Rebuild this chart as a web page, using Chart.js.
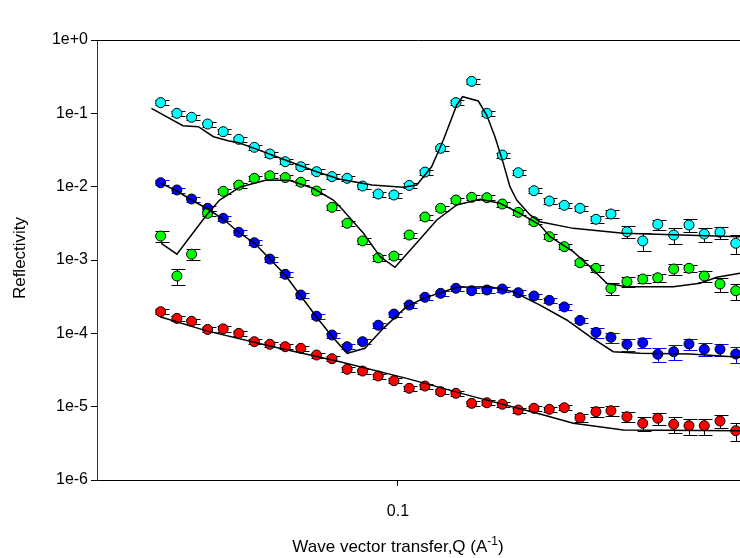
<!DOCTYPE html>
<html>
<head>
<meta charset="utf-8">
<script src="https://cdn.jsdelivr.net/npm/chart.js@4"></script>
<style>
  html, body { margin: 0; padding: 0; background: #fff; overflow: hidden; }
  canvas { display: block; }
</style>
</head>
<body>
<canvas id="chart" width="740" height="558"></canvas>
<script>
// Q values (A^-1) shared by all four measured curves
const qValues = [0.0387, 0.0413, 0.0438, 0.0467, 0.0497, 0.0529, 0.0563, 0.0599, 0.0637, 0.0678,
  0.0722, 0.0768, 0.0816, 0.0868, 0.0924, 0.0984, 0.1046, 0.1114, 0.1186, 0.1261,
  0.1343, 0.1427, 0.1518, 0.1618, 0.1723, 0.1832, 0.1945, 0.2071, 0.2208, 0.2344,
  0.2499, 0.2662, 0.2827, 0.3013, 0.3203, 0.3405, 0.3626, 0.3862];

// measured reflectivity
const cyanR = [0.140, 0.100, 0.0883, 0.0715, 0.0562, 0.0442, 0.0344, 0.0279, 0.0219, 0.0187,
  0.0160, 0.0137, 0.0130, 0.0102, 0.00794, 0.00770, 0.0104, 0.0158, 0.0333, 0.140,
  0.273, 0.100, 0.0270, 0.0155, 0.00881, 0.00637, 0.00557, 0.00507, 0.00359, 0.00424,
  0.00243, 0.00182, 0.00307, 0.00219, 0.00300, 0.00226, 0.00239, 0.00169];
const greenR = [0.00212, 0.000605, 0.00120, 0.00433, 0.00864, 0.0105, 0.0130, 0.0141, 0.0133, 0.0115,
  0.00872, 0.00523, 0.00317, 0.00182, 0.00107, 0.00113, 0.00219, 0.00386, 0.00507, 0.00658,
  0.00716, 0.00707, 0.00580, 0.00447, 0.00333, 0.00208, 0.00152, 0.000918, 0.000770, 0.000411,
  0.000506, 0.000550, 0.000573, 0.000754, 0.000770, 0.000605, 0.000471, 0.000381];
const blueR = [0.0113, 0.00901, 0.00679, 0.00507, 0.00370, 0.00239, 0.00172, 0.00103, 0.000638, 0.000333,
  0.000171, 0.0000949, 0.0000657, 0.0000769, 0.000129, 0.000183, 0.000243, 0.000310, 0.000351, 0.000411,
  0.000381, 0.000390, 0.000402, 0.000358, 0.000323, 0.000282, 0.000229, 0.000150, 0.000103, 0.0000882,
  0.0000709, 0.0000745, 0.0000518, 0.0000561, 0.0000715, 0.0000606, 0.0000606, 0.0000522];
const redR = [0.000197, 0.000160, 0.000146, 0.000113, 0.000115, 0.000100, 0.0000769, 0.0000709, 0.0000657, 0.0000625,
  0.0000506, 0.0000451, 0.0000323, 0.0000306, 0.0000262, 0.0000226, 0.0000178, 0.0000191, 0.0000160, 0.0000152,
  0.0000111, 0.0000113, 0.0000108, 0.00000900, 0.00000950, 0.00000920, 0.00000968, 0.00000707, 0.00000854, 0.00000881,
  0.00000729, 0.00000593, 0.00000694, 0.00000575, 0.00000550, 0.00000550, 0.00000637, 0.00000470];

// relative errors
const cyanErr = [0.08, 0.08, 0.08, 0.08, 0.08, 0.08, 0.08, 0.08, 0.08, 0.08,
  0.08, 0.08, 0.08, 0.08, 0.08, 0.08, 0.08, 0.08, 0.08, 0.08,
  0.08, 0.08, 0.08, 0.08, 0.08, 0.09, 0.09, 0.09, 0.12, 0.12,
  0.19, 0.28, 0.16, 0.25, 0.19, 0.22, 0.19, 0.28];
const greenErr = [0.16, 0.25, 0.16, 0.08, 0.08, 0.08, 0.08, 0.08, 0.08, 0.08,
  0.08, 0.08, 0.08, 0.08, 0.08, 0.08, 0.08, 0.08, 0.08, 0.08,
  0.08, 0.08, 0.08, 0.08, 0.08, 0.08, 0.08, 0.08, 0.12, 0.19,
  0.16, 0.12, 0.12, 0.16, 0.12, 0.16, 0.22, 0.25];
const blueErr = [0.08, 0.08, 0.08, 0.08, 0.08, 0.08, 0.08, 0.08, 0.08, 0.08,
  0.08, 0.08, 0.08, 0.08, 0.08, 0.08, 0.08, 0.08, 0.08, 0.08,
  0.08, 0.08, 0.08, 0.08, 0.08, 0.08, 0.08, 0.09, 0.16, 0.16,
  0.19, 0.16, 0.22, 0.22, 0.16, 0.20, 0.19, 0.25];
const redErr = [0.08, 0.08, 0.08, 0.08, 0.08, 0.08, 0.08, 0.08, 0.08, 0.08,
  0.08, 0.08, 0.08, 0.08, 0.08, 0.08, 0.08, 0.08, 0.08, 0.08,
  0.08, 0.08, 0.08, 0.08, 0.08, 0.08, 0.08, 0.12, 0.16, 0.16,
  0.16, 0.22, 0.19, 0.24, 0.25, 0.25, 0.19, 0.28];

// fitted curves
const cyanFitQ = [0.0373, 0.0423, 0.0450, 0.0478, 0.0507, 0.0529, 0.0563, 0.0637, 0.0722, 0.0793,
  0.0901, 0.1021, 0.1078, 0.1144, 0.1199, 0.1265, 0.1295, 0.1379, 0.1426, 0.1474,
  0.1524, 0.1565, 0.1608, 0.1696, 0.1765, 0.2016, 0.2463, 0.3928];
const cyanFitR = [0.117, 0.0678, 0.0657, 0.0480, 0.0423, 0.0398, 0.0333, 0.0231, 0.0160, 0.0126,
  0.01054, 0.0098, 0.01054, 0.0187, 0.0433, 0.130, 0.1685, 0.1473, 0.0949, 0.0480,
  0.0208, 0.00999, 0.00658, 0.00411, 0.00333, 0.00270, 0.00231, 0.00208];
const greenFitQ = [0.0388, 0.0413, 0.0465, 0.0490, 0.0532, 0.0591, 0.0649, 0.0712, 0.0772, 0.0793,
  0.0871, 0.0931, 0.0988, 0.1063, 0.1168, 0.1265, 0.1388, 0.1504, 0.1629, 0.1765,
  0.1837, 0.2016, 0.2156, 0.2306, 0.2496, 0.3008, 0.3346, 0.3579, 0.3928];
const greenFitR = [0.00169, 0.00120, 0.00411, 0.00658, 0.00990, 0.0123, 0.0121, 0.00950, 0.00658, 0.00533,
  0.00231, 0.00111, 0.000795, 0.00152, 0.00351, 0.00562, 0.00672, 0.00593, 0.00433, 0.00300,
  0.00208, 0.00130, 0.000810, 0.000481, 0.000432, 0.000432, 0.000481, 0.000580, 0.000658];
const blueFitQ = [0.0387, 0.0413, 0.0438, 0.0467, 0.0497, 0.0529, 0.0563, 0.0599, 0.0637, 0.0678,
  0.0722, 0.0767, 0.0816, 0.0876, 0.0943, 0.1035, 0.1107, 0.1265, 0.1445, 0.1586,
  0.1765, 0.1964, 0.2156, 0.2366, 0.2634, 0.3216, 0.3928];
const blueFitR = [0.0112, 0.00872, 0.00658, 0.00496, 0.00362, 0.00237, 0.00170, 0.00103, 0.000624, 0.000323,
  0.000167, 0.0000919, 0.0000534, 0.0000625, 0.000117, 0.000231, 0.000300, 0.000424, 0.000432, 0.000369,
  0.000243, 0.000152, 0.0000899, 0.0000561, 0.0000534, 0.0000522, 0.0000471];
const redFitQ = [0.0386, 0.0465, 0.0607, 0.0793, 0.1035, 0.1352, 0.1765, 0.2016, 0.2463, 0.3928];
const redFitR = [0.000168, 0.000108, 0.0000657, 0.0000410, 0.0000243, 0.0000137, 0.00000794, 0.00000593, 0.00000480, 0.00000470];

const xTicks = [0.1];
const yTicks = [1e-6, 1e-5, 1e-4, 1e-3, 1e-2, 1e-1, 1];

const FONT = "'Liberation Sans', Arial, sans-serif";

function points(xs, ys) {
  return xs.map(function (x, i) { return { x: x, y: ys[i] }; });
}

function measured(label, ys, errs, fill, errColor) {
  return {
    label: label,
    data: points(qValues, ys),
    errors: errs,
    errColor: errColor,
    showLine: false,
    pointRadius: 5,
    pointBackgroundColor: fill,
    pointBorderColor: "#000",
    pointBorderWidth: 1,
    order: 2,
  };
}

function fit(label, xs, ys) {
  return {
    label: label,
    data: points(xs, ys),
    showLine: true,
    borderColor: "#000",
    borderWidth: 1.5,
    pointRadius: 0,
    fill: false,
    order: 1,
  };
}

const errorBars = {
  id: "errorBars",
  beforeDatasetsDraw(chart) {
    const ctx = chart.ctx;
    const xs = chart.scales.x, ys = chart.scales.y;
    const a = chart.chartArea;
    ctx.save();
    ctx.beginPath();
    ctx.rect(a.left, a.top, a.right - a.left, a.bottom - a.top);
    ctx.clip();
    chart.data.datasets.forEach(function (ds) {
      if (!ds.errors) return;
      ctx.strokeStyle = ds.errColor;
      ctx.lineWidth = 1;
      ds.data.forEach(function (p, i) {
        const r = ds.errors[i];
        const px = Math.round(xs.getPixelForValue(p.x)) + 0.5;
        const hi = Math.round(ys.getPixelForValue(p.y * (1 + r))) + 0.5;
        const lo = Math.round(ys.getPixelForValue(p.y * (1 - r))) + 0.5;
        ctx.beginPath();
        ctx.moveTo(px, hi);
        ctx.lineTo(px, lo);
        ctx.moveTo(px - 6, hi);
        ctx.lineTo(px + 8, hi);
        ctx.moveTo(px - 6, lo);
        ctx.lineTo(px + 8, lo);
        ctx.stroke();
      });
    });
    ctx.restore();
  },
};

const frame = {
  id: "frame",
  afterDraw(chart) {
    const ctx = chart.ctx;
    const a = chart.chartArea;
    ctx.save();
    ctx.strokeStyle = "#000";
    ctx.lineWidth = 1;
    ctx.beginPath();
    ctx.moveTo(a.left, a.top + 0.5);
    ctx.lineTo(a.right, a.top + 0.5);
    ctx.stroke();

    ctx.fillStyle = "#000";
    // y title
    ctx.font = "17px " + FONT;
    ctx.textAlign = "center";
    ctx.textBaseline = "middle";
    ctx.translate(20, 258);
    ctx.rotate(-Math.PI / 2);
    ctx.fillText("Reflectivity", 0, 0);
    ctx.setTransform(1, 0, 0, 1, 0, 0);

    // x title with superscript
    const main = "Wave vector transfer,Q (A";
    const sup = "-1";
    const tail = ")";
    ctx.font = "17px " + FONT;
    const w1 = ctx.measureText(main).width;
    const w3 = ctx.measureText(tail).width;
    ctx.font = "12px " + FONT;
    const w2 = ctx.measureText(sup).width;
    let x = 398 - (w1 + w2 + w3) / 2;
    const base = 552;
    ctx.textAlign = "left";
    ctx.textBaseline = "alphabetic";
    ctx.font = "17px " + FONT;
    ctx.fillText(main, x, base);
    x += w1;
    ctx.font = "12px " + FONT;
    ctx.fillText(sup, x, base - 7);
    x += w2;
    ctx.font = "17px " + FONT;
    ctx.fillText(tail, x, base);
    ctx.restore();
  },
};

const data = {
  datasets: [
    fit("Cyan fit", cyanFitQ, cyanFitR),
    fit("Green fit", greenFitQ, greenFitR),
    fit("Blue fit", blueFitQ, blueFitR),
    fit("Red fit", redFitQ, redFitR),
    measured("Cyan", cyanR, cyanErr, "#00ffff", "#000"),
    measured("Green", greenR, greenErr, "#00ff00", "#000"),
    measured("Blue", blueR, blueErr, "#0000ff", "#0000ff"),
    measured("Red", redR, redErr, "#ff0000", "#000"),
  ],
};

const config = {
  type: "scatter",
  data: data,
  options: {
    responsive: false,
    animation: false,
    devicePixelRatio: 1,
    layout: { autoPadding: false, padding: { top: 40, right: 0, left: 0, bottom: 0 } },
    plugins: { legend: { display: false }, tooltip: { enabled: false } },
    scales: {
      x: {
        type: "logarithmic",
        min: 0.03,
        max: 0.3928,
        afterBuildTicks: function (s) { s.ticks = xTicks.map(function (v) { return { value: v }; }); },
        afterFit: function (s) { s.height = 78; },
        ticks: {
          font: { size: 16, family: FONT },
          color: "#000",
          padding: 16,
          maxRotation: 0,
          callback: function (v) { return String(v); },
        },
        grid: { drawOnChartArea: false, drawTicks: true, tickLength: 6, color: "#000" },
        border: { color: "#000", width: 1 },
      },
      y: {
        type: "logarithmic",
        min: 1e-6,
        max: 1,
        afterBuildTicks: function (s) { s.ticks = yTicks.map(function (v) { return { value: v }; }); },
        afterFit: function (s) { s.width = 97; },
        ticks: {
          font: { size: 16, family: FONT },
          color: "#000",
          padding: 3,
          callback: function (v) {
            const e = Math.round(Math.log10(v));
            return "1e" + (e >= 0 ? "+" : "") + e;
          },
        },
        grid: { drawOnChartArea: false, drawTicks: true, tickLength: 6, color: "#000" },
        border: { color: "#333", width: 1 },
      },
    },
  },
  plugins: [errorBars, frame],
};

const chart = new Chart(document.getElementById("chart"), config);
</script>
</body>
</html>
